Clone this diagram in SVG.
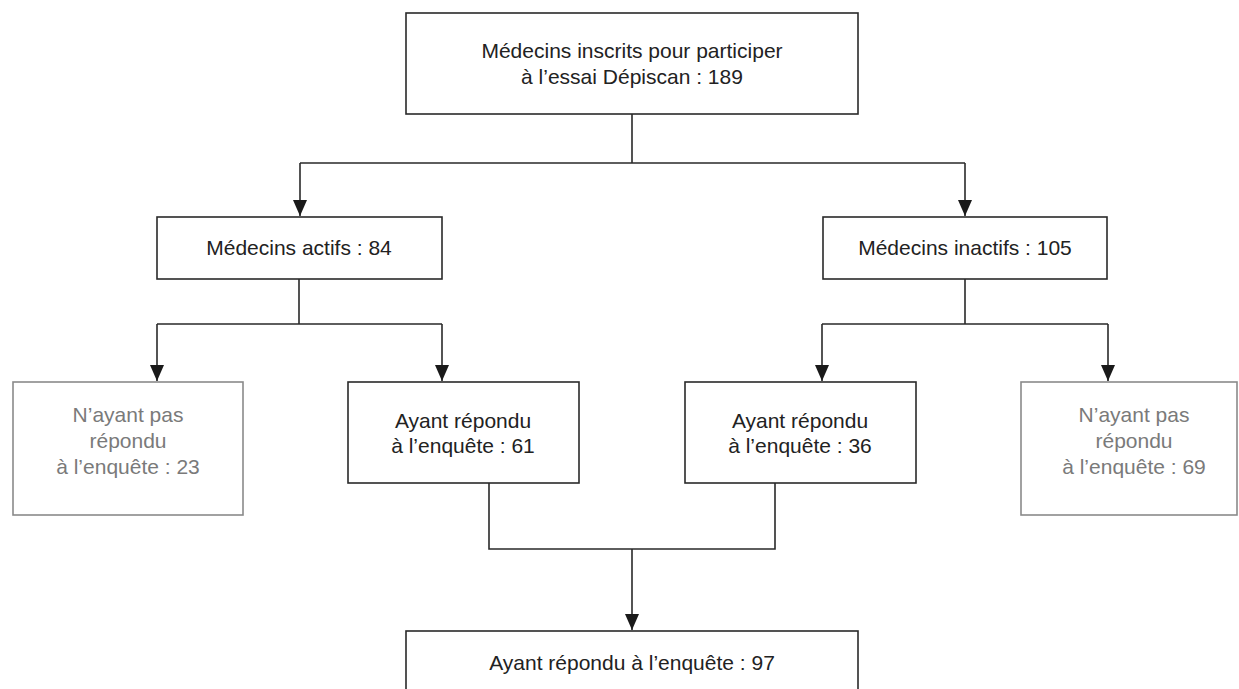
<svg xmlns="http://www.w3.org/2000/svg" width="1239" height="689" viewBox="0 0 1239 689">
<style>
.box{fill:#fff;stroke:#2a2a2a;stroke-width:1.6}
.gbox{fill:#fff;stroke:#8a8a8a;stroke-width:1.6}
.t{font-family:"Liberation Sans",Arial,sans-serif;font-size:21px;fill:#222;text-anchor:middle}
.gt{font-family:"Liberation Sans",Arial,sans-serif;font-size:21px;fill:#7a7a7a;text-anchor:middle}
.c{fill:none;stroke:#2a2a2a;stroke-width:1.6}
</style>
<defs>
<marker id="ah" viewBox="0 0 16 14" refX="16" refY="7" markerWidth="16" markerHeight="14" markerUnits="userSpaceOnUse" orient="auto">
<path d="M0,0 L16,7 L0,14 Z" fill="#1a1a1a"/>
</marker>
</defs>
<rect width="1239" height="689" fill="#fff"/>
<g id="connectors">
<path class="c" d="M632,114 V163 M300,163 H965"/>
<path class="c" d="M300,163 V216" marker-end="url(#ah)"/>
<path class="c" d="M965,163 V216" marker-end="url(#ah)"/>
<path class="c" d="M299,279 V324 M157,324 H442"/>
<path class="c" d="M157,324 V381" marker-end="url(#ah)"/>
<path class="c" d="M442,324 V381" marker-end="url(#ah)"/>
<path class="c" d="M965,279 V324 M822,324 H1108"/>
<path class="c" d="M822,324 V381" marker-end="url(#ah)"/>
<path class="c" d="M1108,324 V381" marker-end="url(#ah)"/>
<path class="c" d="M489,483 V549 H775 V483"/>
<path class="c" d="M632,549 V630" marker-end="url(#ah)"/>
</g>
<g id="n-inscrits">
<rect class="box" x="406" y="13" width="452" height="101"/>
<text class="t" x="632" y="58">Médecins inscrits pour participer</text>
<text class="t" x="632" y="84">à l’essai Dépiscan : 189</text>
</g>
<g id="n-actifs">
<rect class="box" x="157" y="217" width="285" height="62"/>
<text class="t" x="299" y="255">Médecins actifs : 84</text>
</g>
<g id="n-inactifs">
<rect class="box" x="823" y="217" width="284" height="62"/>
<text class="t" x="965" y="255">Médecins inactifs : 105</text>
</g>
<g id="n-nonrep-actifs">
<rect class="gbox" x="13" y="382" width="230" height="133"/>
<text class="gt" x="128" y="422">N’ayant pas</text>
<text class="gt" x="128" y="448">répondu</text>
<text class="gt" x="128" y="474">à l’enquête : 23</text>
</g>
<g id="n-rep-actifs">
<rect class="box" x="348" y="382" width="231" height="101"/>
<text class="t" x="463" y="428">Ayant répondu</text>
<text class="t" x="463" y="453">à l’enquête : 61</text>
</g>
<g id="n-rep-inactifs">
<rect class="box" x="685" y="382" width="231" height="101"/>
<text class="t" x="800" y="428">Ayant répondu</text>
<text class="t" x="800" y="453">à l’enquête : 36</text>
</g>
<g id="n-nonrep-inactifs">
<rect class="gbox" x="1021" y="382" width="216" height="133"/>
<text class="gt" x="1134" y="422">N’ayant pas</text>
<text class="gt" x="1134" y="448">répondu</text>
<text class="gt" x="1134" y="474">à l’enquête : 69</text>
</g>
<g id="n-total">
<rect class="box" x="406" y="631" width="452" height="80"/>
<text class="t" x="632" y="670">Ayant répondu à l’enquête : 97</text>
</g>
</svg>
